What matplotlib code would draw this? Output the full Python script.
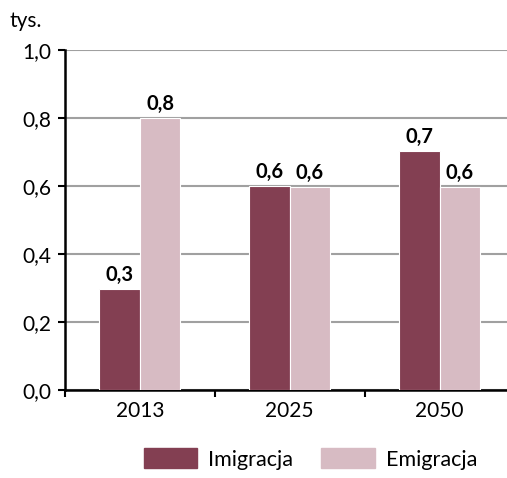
import matplotlib.pyplot as plt
import numpy as np
from matplotlib.patches import Patch

# data
years = ["2013", "2025", "2050"]
imigracja = [0.297, 0.600, 0.704]
emigracja = [0.800, 0.598, 0.598]

DARK = "#833F52"
LIGHT = "#D7BBC3"

plt.rcParams["font.family"] = ["Lato", "DejaVu Sans"]

fig = plt.figure(figsize=(5.07, 4.78), dpi=100)
ax = fig.add_axes([0.128, 0.184, 0.872, 0.711])

x = np.arange(len(years))
w = 0.27
b1 = ax.bar(x - w / 2, imigracja, w, color=DARK, edgecolor="white", lw=0.8, zorder=3)
b2 = ax.bar(x + w / 2, emigracja, w, color=LIGHT, edgecolor="white", lw=0.8, zorder=3)

for bars, vals in [(b1, imigracja), (b2, emigracja)]:
    for r, v in zip(bars, vals):
        ax.text(r.get_x() + r.get_width() / 2, v + 0.012, f"{v:.1f}".replace(".", ","),
                ha="center", va="bottom", fontsize=14.5, fontweight="bold")

ax.set_ylim(0, 1.0)
ax.set_xlim(-0.5, 2.45)
yt = np.arange(0, 1.01, 0.2)
ax.set_yticks(yt)
ax.set_yticklabels([f"{v:.1f}".replace(".", ",") for v in yt], fontsize=15)
ax.yaxis.grid(True, color="#a0a0a0", lw=1.5, zorder=0)

ax.set_xticks(x)
ax.set_xticklabels(years, fontsize=15)
ax.set_xticks([-0.5, 0.5, 1.5], minor=True)
ax.tick_params(axis="x", which="major", length=0, pad=8)
ax.tick_params(axis="x", which="minor", length=5, width=1.5, direction="out")
ax.tick_params(axis="y", length=5, width=1.5, direction="out", pad=5)

for s in ["top", "right"]:
    ax.spines[s].set_visible(False)
for s in ["left", "bottom"]:
    ax.spines[s].set_linewidth(1.8)

fig.text(0.018, 0.957, "tys.", fontsize=15, va="center", ha="left")

handles = [Patch(color=DARK, label="Imigracja"), Patch(color=LIGHT, label="Emigracja")]
fig.legend(handles=handles, loc="center", bbox_to_anchor=(0.612, 0.04), ncol=2,
           frameon=False, fontsize=15.5, handlelength=2.5, handleheight=1.05,
           columnspacing=1.3, handletextpad=0.5)

fig.savefig("out.png", dpi=100)
